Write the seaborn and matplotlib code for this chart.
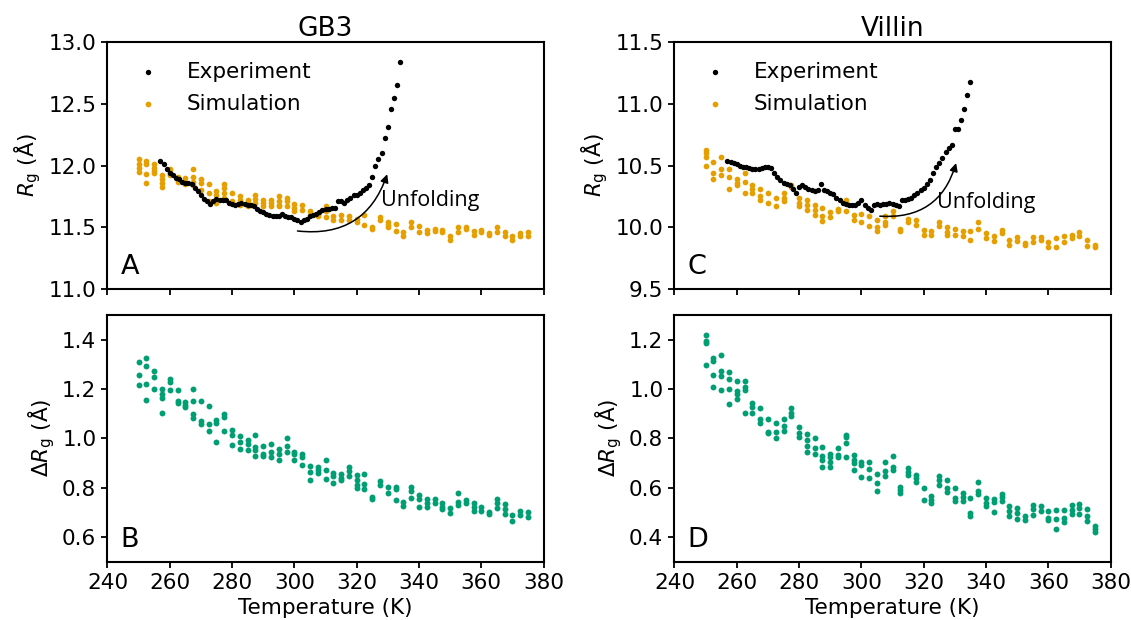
import numpy as np
import pandas as pd
import matplotlib
matplotlib.use("Agg")
import matplotlib.pyplot as plt
import seaborn as sns

# ======================
# Data
# ======================

sim_temp = [250.0, 252.5, 255.0, 257.5, 260.0, 262.5, 265.0, 267.5, 270.0, 272.5,
            275.0, 277.5, 280.0, 282.5, 285.0, 287.5, 290.0, 292.5, 295.0, 297.5,
            300.0, 302.5, 305.0, 307.5, 310.0, 312.5, 315.0, 317.5, 320.0, 322.5,
            325.0, 327.5, 330.0, 332.5, 335.0, 337.5, 340.0, 342.5, 345.0, 347.5,
            350.0, 352.5, 355.0, 357.5, 360.0, 362.5, 365.0, 367.5, 370.0, 372.5,
            375.0]

# GB3 simulated Rg, replicas at each temperature
gb3_sim_rg = [
    [12.05, 12.01, 11.98, 11.95], [12.04, 12.01, 11.93, 11.86], [12.01, 11.98, 11.96, 11.94],
    [11.92, 11.89, 11.86, 11.83], [11.97, 11.95, 11.93, 11.92], [11.91, 11.89, 11.87],
    [11.90, 11.87, 11.85], [11.97, 11.91, 11.87, 11.84], [11.89, 11.86, 11.80],
    [11.85, 11.78, 11.71], [11.79, 11.76, 11.70], [11.85, 11.82, 11.78, 11.74],
    [11.78, 11.71], [11.75, 11.72, 11.68], [11.72, 11.70, 11.67],
    [11.76, 11.73, 11.70], [11.72, 11.70, 11.67], [11.72, 11.70, 11.67],
    [11.75, 11.71, 11.68, 11.67], [11.74, 11.71, 11.67], [11.69, 11.66, 11.63],
    [11.68, 11.64], [11.63, 11.60], [11.61, 11.59],
    [11.67, 11.63, 11.58], [11.59, 11.56], [11.60, 11.56],
    [11.59, 11.56], [11.57, 11.54], [11.60, 11.52],
    [11.50, 11.49], [11.58, 11.56], [11.54, 11.52, 11.50],
    [11.53, 11.47], [11.46, 11.43], [11.54, 11.50],
    [11.51, 11.46], [11.48, 11.45], [11.49, 11.47],
    [11.48, 11.46], [11.43, 11.40], [11.50, 11.46],
    [11.50, 11.49], [11.47, 11.44], [11.48, 11.46],
    [11.45, 11.44], [11.50, 11.46], [11.46, 11.43],
    [11.43, 11.40], [11.45, 11.43], [11.46, 11.43],
]

# GB3 fluctuation of Rg
gb3_delta = [
    [1.308, 1.258, 1.217], [1.326, 1.292, 1.222, 1.156], [1.272, 1.248, 1.200],
    [1.200, 1.180, 1.164, 1.102], [1.241, 1.227, 1.194], [1.194, 1.153, 1.143],
    [1.147, 1.133, 1.126], [1.200, 1.153, 1.100, 1.083], [1.153, 1.070, 1.056],
    [1.132, 1.056, 1.028], [1.073, 1.062, 0.985], [1.100, 1.086, 1.028],
    [1.035, 1.012, 0.972], [1.008, 0.985, 0.958], [0.992, 0.978, 0.954],
    [1.012, 0.965, 0.954, 0.927], [0.968, 0.938, 0.927], [0.976, 0.945, 0.925],
    [0.958, 0.938, 0.914], [1.003, 0.968, 0.945], [0.945, 0.935, 0.911],
    [0.935, 0.925, 0.891], [0.888, 0.864, 0.830], [0.884, 0.871, 0.860],
    [0.914, 0.871, 0.837], [0.860, 0.847, 0.817], [0.855, 0.841, 0.830],
    [0.884, 0.868, 0.847], [0.851, 0.830, 0.810, 0.800], [0.857, 0.814, 0.793],
    [0.763, 0.753], [0.828, 0.810], [0.801, 0.777],
    [0.804, 0.793, 0.750], [0.743, 0.726], [0.804, 0.788, 0.757],
    [0.770, 0.753, 0.720], [0.753, 0.736, 0.720], [0.753, 0.736],
    [0.736, 0.723, 0.712], [0.716, 0.696], [0.777, 0.743, 0.730],
    [0.750, 0.739], [0.736, 0.723, 0.707], [0.723, 0.707],
    [0.703, 0.693], [0.753, 0.736, 0.716], [0.734, 0.712, 0.693],
    [0.689, 0.666], [0.707, 0.689], [0.703, 0.680],
]

# Villin simulated Rg
villin_sim_rg = [
    [10.63, 10.60, 10.57, 10.50], [10.53, 10.44, 10.39], [10.57, 10.47, 10.42],
    [10.47, 10.41, 10.31], [10.39, 10.36, 10.34], [10.44, 10.37, 10.28],
    [10.34, 10.31, 10.28], [10.31, 10.25, 10.22], [10.28, 10.20],
    [10.24, 10.17], [10.28, 10.24, 10.21], [10.34, 10.33],
    [10.24, 10.20, 10.17], [10.22, 10.18, 10.14], [10.18, 10.14, 10.10],
    [10.16, 10.09, 10.05], [10.12, 10.08], [10.15, 10.13],
    [10.22, 10.20, 10.13], [10.10, 10.06], [10.11, 10.04],
    [10.09, 10.01], [10.06, 10.00, 9.97], [10.09, 10.04, 10.02],
    [10.13, 10.09], [9.99, 9.97], [10.07, 10.04],
    [10.06, 10.02], [9.98, 9.94], [9.97, 9.94],
    [10.04, 10.01], [10.00, 9.96, 9.94], [9.99, 9.94],
    [9.97, 9.93], [9.97, 9.90], [10.04, 9.99],
    [9.95, 9.91], [9.93, 9.89], [9.98, 9.95],
    [9.90, 9.86], [9.92, 9.89], [9.86, 9.87],
    [9.92, 9.88], [9.92, 9.90], [9.88, 9.84],
    [9.91, 9.84], [9.93, 9.88], [9.94, 9.91],
    [9.96, 9.93], [9.90, 9.85], [9.86, 9.84],
]

# Villin fluctuation of Rg
villin_delta = [
    [1.219, 1.196, 1.185, 1.099], [1.126, 1.112, 1.055, 1.008], [1.136, 1.073, 1.051, 0.997],
    [1.069, 1.039, 1.001, 0.941], [1.032, 0.992, 0.978, 0.958], [1.031, 1.008, 0.995, 0.901],
    [0.944, 0.927, 0.901], [0.921, 0.880, 0.860], [0.880, 0.827, 0.820],
    [0.863, 0.827, 0.800], [0.880, 0.849, 0.831], [0.921, 0.903, 0.890],
    [0.844, 0.823, 0.804], [0.817, 0.793, 0.769, 0.746], [0.802, 0.759, 0.737],
    [0.766, 0.728, 0.712, 0.683], [0.737, 0.723, 0.703, 0.683], [0.759, 0.733, 0.723],
    [0.813, 0.804, 0.780, 0.723], [0.733, 0.712, 0.699, 0.672], [0.706, 0.692, 0.642],
    [0.702, 0.675, 0.641], [0.656, 0.618, 0.585], [0.706, 0.669, 0.648],
    [0.730, 0.683, 0.672], [0.602, 0.589, 0.578], [0.679, 0.665, 0.652],
    [0.652, 0.638, 0.625], [0.598, 0.551], [0.565, 0.551, 0.538],
    [0.648, 0.632, 0.612], [0.632, 0.598, 0.581], [0.598, 0.558, 0.544],
    [0.578, 0.562, 0.544], [0.558, 0.497, 0.484], [0.622, 0.585, 0.575],
    [0.558, 0.538, 0.524], [0.554, 0.540, 0.501], [0.575, 0.562, 0.548],
    [0.524, 0.504, 0.487], [0.517, 0.497, 0.473], [0.487, 0.470],
    [0.531, 0.513, 0.491], [0.527, 0.504], [0.504, 0.477, 0.468],
    [0.508, 0.473, 0.433], [0.508, 0.477, 0.460], [0.531, 0.508, 0.495],
    [0.535, 0.517, 0.495], [0.513, 0.484, 0.464], [0.446, 0.433, 0.419],
]

# Experiment (GB3)
gb3_exp_temp = [257, 258, 259, 260, 261, 262, 263, 264, 265, 266, 267, 268, 269,
                270, 271, 272, 273, 274, 275, 276, 277, 278, 279, 280, 281, 282,
                283, 284, 285, 286, 287, 288, 289, 290, 291, 292, 293, 294, 295,
                296, 297, 298, 299, 300, 301, 302, 303, 304, 305, 306, 307, 308,
                309, 310, 311, 312, 313, 314, 315, 316, 317, 318, 319, 320, 321,
                322, 323, 324, 325, 326, 327, 328, 329, 330, 331, 332, 333, 334]
gb3_exp_rg = [12.04, 12.01, 11.97, 11.94, 11.92, 11.90, 11.89, 11.87, 11.86, 11.86,
              11.85, 11.82, 11.79, 11.76, 11.73, 11.71, 11.69, 11.71, 11.73, 11.72,
              11.72, 11.72, 11.70, 11.69, 11.68, 11.69, 11.70, 11.69, 11.68, 11.68,
              11.67, 11.65, 11.63, 11.62, 11.61, 11.60, 11.59, 11.59, 11.59, 11.61,
              11.59, 11.58, 11.58, 11.57, 11.56, 11.54, 11.56, 11.57, 11.59, 11.60,
              11.61, 11.62, 11.64, 11.65, 11.65, 11.66, 11.66, 11.71, 11.71, 11.70,
              11.72, 11.74, 11.76, 11.76, 11.78, 11.80, 11.82, 11.84, 11.91, 12.00,
              12.05, 12.10, 12.22, 12.31, 12.46, 12.55, 12.65, 12.84]

# Experiment (Villin)
villin_exp_temp = [257, 258, 259, 260, 261, 262, 263, 264, 265, 266, 267, 268, 269,
                   270, 271, 272, 273, 274, 275, 276, 277, 278, 279, 280, 281, 282,
                   283, 284, 285, 286, 287, 288, 289, 290, 291, 292, 293, 294, 295,
                   296, 297, 298, 299, 300, 301, 302, 303, 304, 305, 306, 307, 308,
                   309, 310, 311, 312, 313, 314, 315, 316, 317, 318, 319, 320, 321,
                   322, 323, 324, 325, 326, 327, 328, 329, 330, 331, 332, 333, 334, 335]
villin_exp_rg = [10.54, 10.53, 10.52, 10.51, 10.50, 10.49, 10.49, 10.48, 10.47, 10.47,
                 10.47, 10.48, 10.49, 10.49, 10.48, 10.44, 10.41, 10.38, 10.36, 10.35,
                 10.34, 10.31, 10.28, 10.33, 10.34, 10.33, 10.31, 10.30, 10.29, 10.30,
                 10.35, 10.30, 10.29, 10.28, 10.27, 10.24, 10.22, 10.20, 10.19, 10.18,
                 10.18, 10.18, 10.20, 10.22, 10.18, 10.16, 10.14, 10.18, 10.19, 10.18,
                 10.19, 10.19, 10.20, 10.19, 10.18, 10.17, 10.22, 10.22, 10.23, 10.24,
                 10.26, 10.28, 10.30, 10.32, 10.35, 10.38, 10.44, 10.49, 10.52, 10.56,
                 10.61, 10.64, 10.67, 10.80, 10.80, 10.87, 10.96, 11.07, 11.18]

EXP_COLOR = "black"
SIM_COLOR = "#E69F00"
DELTA_COLOR = "#009E73"


def long_table(temps, reps):
    rows = []
    for t, vals in zip(temps, reps):
        for v in vals:
            rows.append((t, v))
    return pd.DataFrame(rows, columns=["T", "value"])


gb3_sim_df = long_table(sim_temp, gb3_sim_rg)
gb3_delta_df = long_table(sim_temp, gb3_delta)
villin_sim_df = long_table(sim_temp, villin_sim_rg)
villin_delta_df = long_table(sim_temp, villin_delta)
gb3_exp_df = pd.DataFrame({"T": gb3_exp_temp, "value": gb3_exp_rg})
villin_exp_df = pd.DataFrame({"T": villin_exp_temp, "value": villin_exp_rg})

# ======================
# Style
# ======================

sns.set_style("ticks")
plt.rcParams["font.family"] = ["DejaVu Sans"]
plt.rcParams["text.color"] = "black"
plt.rcParams["axes.labelcolor"] = "black"
plt.rcParams["axes.edgecolor"] = "black"
plt.rcParams["axes.linewidth"] = 1.5
plt.rcParams["xtick.color"] = "black"
plt.rcParams["ytick.color"] = "black"
plt.rcParams["xtick.major.width"] = 1.3
plt.rcParams["ytick.major.width"] = 1.3
plt.rcParams["xtick.major.size"] = 4.5
plt.rcParams["ytick.major.size"] = 4.5

FS = 15.5

fig, axes = plt.subplots(2, 2, figsize=(11.31, 6.2), dpi=100, sharex=True)
fig.subplots_adjust(left=0.095, right=0.982, top=0.932, bottom=0.094,
                    wspace=0.3, hspace=0.105)

ax_a, ax_c = axes[0]
ax_b, ax_d = axes[1]

# ======================
# Rg panels
# ======================

for ax, exp_df, sim_df in [(ax_a, gb3_exp_df, gb3_sim_df),
                           (ax_c, villin_exp_df, villin_sim_df)]:
    sns.scatterplot(data=exp_df, x="T", y="value", ax=ax, color=EXP_COLOR,
                    s=15, linewidth=0, label="Experiment", zorder=3)
    sns.scatterplot(data=sim_df, x="T", y="value", ax=ax, color=SIM_COLOR,
                    s=17, linewidth=0, label="Simulation", zorder=2)
    ax.legend(loc="upper left", frameon=False, fontsize=FS, labelspacing=0.58)
    ax.set_ylabel(r"$R_\mathrm{g}$ (Å)", fontsize=FS)

# ======================
# Fluctuation panels
# ======================

for ax, df in [(ax_b, gb3_delta_df), (ax_d, villin_delta_df)]:
    sns.scatterplot(data=df, x="T", y="value", ax=ax, color=DELTA_COLOR,
                    s=18, linewidth=0)
    ax.set_ylabel(r"$\Delta R_\mathrm{g}$ (Å)", fontsize=FS)
    ax.set_xlabel("Temperature (K)", fontsize=FS)

ax_a.set_ylim(11.0, 13.0)
ax_a.set_yticks([11.0, 11.5, 12.0, 12.5, 13.0])
ax_c.set_ylim(9.5, 11.5)
ax_c.set_yticks([9.5, 10.0, 10.5, 11.0, 11.5])
ax_b.set_ylim(0.5, 1.5)
ax_b.set_yticks([0.6, 0.8, 1.0, 1.2, 1.4])
ax_d.set_ylim(0.3, 1.3)
ax_d.set_yticks([0.4, 0.6, 0.8, 1.0, 1.2])

for ax in axes.flat:
    ax.set_xlim(240, 380)
    ax.set_xticks([240, 260, 280, 300, 320, 340, 360, 380])
    ax.tick_params(labelsize=FS)
for ax in (ax_a, ax_c):
    ax.set_xlabel("")

ax_a.set_title("GB3", fontsize=19, pad=3)
ax_c.set_title("Villin", fontsize=19, pad=3)

for ax, letter in [(ax_a, "A"), (ax_b, "B"), (ax_c, "C"), (ax_d, "D")]:
    ax.text(0.03, 0.06, letter, transform=ax.transAxes, fontsize=19.5,
            va="baseline", ha="left")

# ======================
# Unfolding arrows
# ======================

arrow_kw = dict(arrowstyle="-|>", color="black", lw=1.1, mutation_scale=12,
                connectionstyle="arc3,rad=0.4", shrinkA=0, shrinkB=0)
ax_a.annotate("", xy=(329.8, 11.93), xytext=(301.0, 11.47), arrowprops=arrow_kw)
ax_a.text(327.9, 11.72, "Unfolding", fontsize=FS, family=["Open Sans", "DejaVu Sans"],
          va="center", ha="left")
ax_c.annotate("", xy=(330.4, 10.52), xytext=(305.9, 10.09), arrowprops=arrow_kw)
ax_c.text(324.4, 10.20, "Unfolding", fontsize=FS, family=["Open Sans", "DejaVu Sans"],
          va="center", ha="left")

fig.savefig("out.png", dpi=100)
